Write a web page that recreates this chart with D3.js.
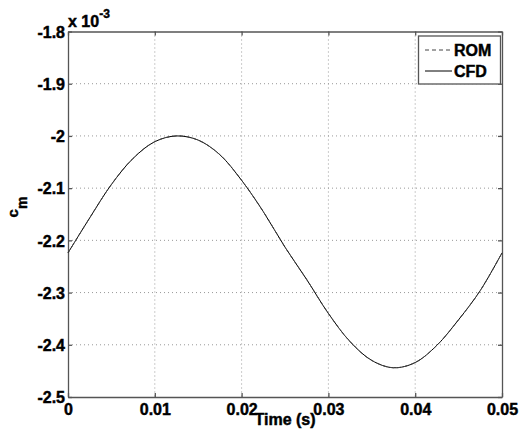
<!DOCTYPE html>
<html><head><meta charset="utf-8">
<script src="https://cdn.jsdelivr.net/npm/d3@7"></script>
<style>body{margin:0;background:#fff}svg{display:block}text{font-family:"Liberation Sans",Arial,sans-serif;font-weight:700;fill:#000;stroke:#000;stroke-width:0.45px}</style>
</head><body><svg id="c" width="525" height="442"></svg>
<script>
const time = [0,0.0025,0.005,0.0075,0.01,0.0125,0.015,0.0175,0.02,0.0225,0.025,0.0275,0.03,0.0325,0.035,0.0375,0.04,0.0425,0.045,0.0475,0.05];
const cfd = [-2.224,-2.157,-2.093,-2.043,-2.011,-2.000,-2.008,-2.036,-2.085,-2.145,-2.213,-2.275,-2.340,-2.394,-2.430,-2.444,-2.434,-2.401,-2.352,-2.296,-2.224];
const rom = [-2.224,-2.157,-2.093,-2.043,-2.011,-2.000,-2.008,-2.036,-2.085,-2.145,-2.213,-2.275,-2.340,-2.394,-2.430,-2.444,-2.434,-2.401,-2.352,-2.296,-2.224];
const xTicks = [0,0.01,0.02,0.03,0.04,0.05];
const xTickLabels = ["0","0.01","0.02","0.03","0.04","0.05"];
const yTicks = [-2.5,-2.4,-2.3,-2.2,-2.1,-2,-1.9,-1.8];
const yTickLabels = ["-2.5","-2.4","-2.3","-2.2","-2.1","-2","-1.9","-1.8"];
const seriesNames = ["ROM","CFD"];

const L=68,R=502,T=31.5,B=397;
const svg=d3.select("#c");
const x=d3.scaleLinear().domain([0,0.05]).range([L,R]);
const y=d3.scaleLinear().domain([-2.5,-1.8]).range([B,T]);
const axisCol="#555";

// grid
const g=svg.append("g");
g.selectAll(".gx").data(xTicks.slice(1,-1)).join("line")
 .attr("x1",d=>x(d)).attr("x2",d=>x(d)).attr("y1",T).attr("y2",B)
 .attr("stroke","#999").attr("stroke-width",1).attr("stroke-dasharray","1,3");
g.selectAll(".gy").data(yTicks.slice(1,-1)).join("line")
 .attr("y1",d=>y(d)).attr("y2",d=>y(d)).attr("x1",L).attr("x2",R)
 .attr("stroke","#999").attr("stroke-width",1).attr("stroke-dasharray","1,3");

// axes
const fmtX=(d,i)=>xTickLabels[i], fmtY=(d,i)=>yTickLabels[i];
const ax=svg.append("g").attr("transform",`translate(0,${B})`)
 .call(d3.axisBottom(x).tickValues(xTicks).tickFormat(fmtX).tickSizeInner(-4).tickSizeOuter(0).tickPadding(7));
const ay=svg.append("g").attr("transform",`translate(${L},0)`)
 .call(d3.axisLeft(y).tickValues(yTicks).tickFormat(fmtY).tickSizeInner(-4).tickSizeOuter(0).tickPadding(3));
const at=svg.append("g").attr("transform",`translate(0,${T})`)
 .call(d3.axisTop(x).tickValues(xTicks).tickFormat("").tickSizeInner(-4).tickSizeOuter(0));
const ar=svg.append("g").attr("transform",`translate(${R},0)`)
 .call(d3.axisRight(y).tickValues(yTicks).tickFormat("").tickSizeInner(-4).tickSizeOuter(0));
[ax,ay,at,ar].forEach(a=>{a.attr("font-family",null).attr("font-size",null);a.selectAll("path,line").attr("stroke",axisCol).attr("stroke-width",1.3);a.selectAll("text").style("font-size","16px").attr("fill","#000");});
ax.selectAll("text").attr("dy","0.71em");
ay.selectAll("text").attr("dy","0.36em");

// lines
const pts=(vals)=>time.map((t,i)=>[t,vals[i]]);
const line=d3.line().x(d=>x(d[0])).y(d=>y(d[1])).curve(d3.curveCatmullRom.alpha(0.5));
svg.append("path").attr("d",line(pts(cfd))).attr("fill","none").attr("stroke","#000").attr("stroke-width",1);
svg.append("path").attr("d",line(pts(rom))).attr("fill","none").attr("stroke","#444").attr("stroke-width",1).attr("stroke-dasharray","4,3");

// exponent
const ex=svg.append("text").attr("x",68).attr("y",27).style("font-size","16px");
ex.append("tspan").text("x 10");
ex.append("tspan").attr("dy",-9).style("font-size","12px").text("-3");

// axis labels
svg.append("text").attr("x",285).attr("y",425).attr("text-anchor","middle").style("font-size","16px").text("Time (s)");
const yl=svg.append("text").attr("transform","translate(18,207) rotate(-90)").attr("text-anchor","middle").style("font-size","15px");
yl.append("tspan").text("c");
yl.append("tspan").attr("dy",9).style("font-size","14px").text("m");

// legend
const lg=svg.append("g");
lg.append("rect").attr("x",418.5).attr("y",36).attr("width",82).attr("height",48).attr("fill","#fff").attr("stroke",axisCol).attr("stroke-width",1.3);
const ly=[50,71];
seriesNames.forEach((n,i)=>{
  lg.append("line").attr("x1",425).attr("x2",452).attr("y1",ly[i]).attr("y2",ly[i]).attr("stroke",i===0?"#444":"#000").attr("stroke-width",1).attr("stroke-dasharray",i===0?"4,3":null);
  lg.append("text").attr("x",454).attr("y",ly[i]).attr("dy","0.36em").style("font-size","16px").text(n);
});
</script></body></html>
